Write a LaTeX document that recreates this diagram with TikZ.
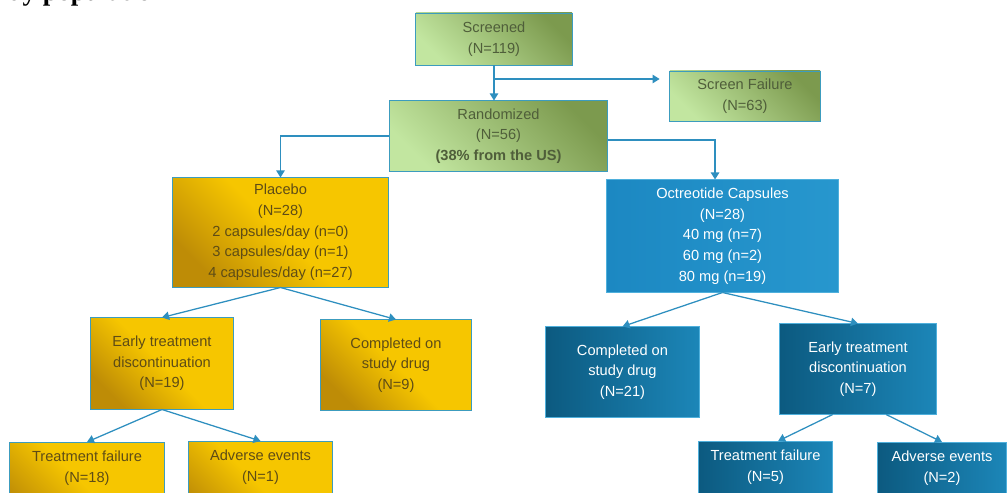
\documentclass[tikz,border=0pt]{standalone}
\usepackage{fontspec}
\setmainfont{Liberation Sans}
\newfontfamily\headfont{Liberation Serif}
\usetikzlibrary{arrows.meta}
\definecolor{flowline}{HTML}{2E8FBF}
\definecolor{grnlight}{HTML}{C2E6A0}
\definecolor{grndark}{HTML}{7C9A4E}
\definecolor{grntext}{HTML}{4F5E3A}
\definecolor{goldlight}{HTML}{F6C600}
\definecolor{golddark}{HTML}{BE8C06}
\definecolor{goldtext}{HTML}{5E4C16}
\definecolor{octblue}{HTML}{1C88C2}
\definecolor{octlight}{HTML}{2797CE}
\definecolor{armdark}{HTML}{0C5A80}
\definecolor{armlight}{HTML}{1C86B8}
\definecolor{boxedge}{HTML}{3C9CBE}
\definecolor{blueedge}{HTML}{4FB0DC}

\begin{document}
\begin{tikzpicture}[x=0.025cm, y=-0.025cm,
    box/.style={draw=boxedge, line width=0.7pt, align=center, inner sep=3pt,
      font=\fontsize{10.4pt}{14.7pt}\selectfont},
    grnbox/.style={box, text=grntext, top color=grndark, bottom color=grnlight, shading angle=-45},
    goldbox/.style={box, text=goldtext, top color=goldlight, bottom color=golddark,
      middle color=goldlight, shading angle=-45},
    octbox/.style={box, draw=blueedge, text=white, left color=octblue, right color=octlight},
    armbox/.style={box, draw=blueedge, text=white, left color=armdark, right color=armlight},
    leaf/.style={anchor=north, inner ysep=6pt, text depth=30pt},
    arr/.style={draw=flowline, line width=0.9pt, -{Triangle[width=6pt,length=5pt]}}]
    \path[use as bounding box, clip] (0,0) rectangle (1008,493);
    % cut heading
    \node[anchor=base west, inner sep=0pt, font=\headfont\bfseries\fontsize{19pt}{22pt}\selectfont]
      (title) at (-31,0.5) {Study population};
    % screening
    \node[grnbox, minimum width=3.9cm, minimum height=1.3cm] (scr) at (494,39) {Screened\\(N=119)};
    \node[grnbox, minimum width=3.75cm, minimum height=1.25cm] (fail) at (745,96) {Screen Failure\\(N=63)};
    \node[grnbox, minimum width=5.425cm, minimum height=1.75cm] (rnd) at (498.5,136)
      {Randomized\\(N=56)\\\textbf{(38\% from the US)}};
    \coordinate (split) at (494,79);
    % placebo arm
    \node[goldbox, minimum width=5.375cm, minimum height=2.725cm] (plc) at (280.5,232.5)
      {Placebo\\(N=28)\\2 capsules/day (n=0)\\3 capsules/day (n=1)\\4 capsules/day (n=27)};
    \node[goldbox, minimum width=3.55cm, minimum height=2.275cm] (plcstop) at (162,363.5)
      {Early treatment\\discontinuation\\(N=19)};
    \node[goldbox, minimum width=3.75cm, minimum height=2.25cm] (plcdone) at (396,365)
      {Completed on\\study drug\\(N=9)};
    \node[goldbox, leaf, minimum width=3.85cm] (plcfail) at (87,442) {Treatment failure\\(N=18)};
    \node[goldbox, leaf, minimum width=3.575cm] (plcae) at (260.5,441) {Adverse events\\(N=1)};
    % octreotide arm
    \node[octbox, minimum width=5.775cm, minimum height=2.8cm] (oct) at (722.5,236)
      {Octreotide Capsules\\(N=28)\\40 mg (n=7)\\60 mg (n=2)\\80 mg (n=19)};
    \node[armbox, minimum width=3.825cm, minimum height=2.25cm] (octdone) at (622.5,372)
      {Completed on\\study drug\\(N=21)};
    \node[armbox, minimum width=3.9cm, minimum height=2.25cm] (octstop) at (858,369)
      {Early treatment\\discontinuation\\(N=7)};
    \node[armbox, leaf, minimum width=3.325cm] (octfail) at (765.5,441) {Treatment failure\\(N=5)};
    \node[armbox, leaf, minimum width=3.2cm] (octae) at (942,442) {Adverse events\\(N=2)};
    % connectors
    \draw[arr] (scr.south) -- (scr.south |- rnd.north);
    \draw[arr, shorten >=7pt] (split) -- (split -| fail.west);
    \draw[arr] (rnd.west) -| (plc.north);
    \draw[arr] ([yshift=-2.8pt]rnd.east) -| ([xshift=-5.3pt]oct.north);
    \draw[arr] (plc.south) -- (plcstop.north);
    \draw[arr] (plc.south) -- (plcdone.north);
    \draw[arr] (plcstop.south) -- (plcfail.north);
    \draw[arr] (plcstop.south) -- (plcae.north);
    \draw[arr] (oct.south) -- (octdone.north);
    \draw[arr] (oct.south) -- (octstop.north);
    \draw[arr] ([xshift=-18pt]octstop.south) -- ([xshift=9pt]octfail.north);
    \draw[arr] ([xshift=20pt]octstop.south) -- (octae.north);
\end{tikzpicture}
\end{document}
